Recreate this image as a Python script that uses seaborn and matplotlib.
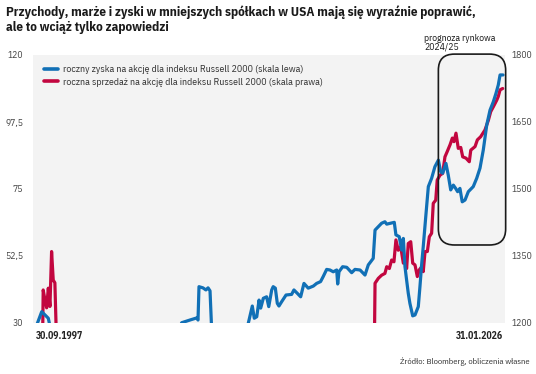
import numpy as np
import pandas as pd
import matplotlib
matplotlib.use('Agg')
import matplotlib.pyplot as plt
import seaborn as sns
from matplotlib import font_manager as fm
from matplotlib.lines import Line2D
from matplotlib.patches import FancyBboxPatch
from matplotlib.transforms import IdentityTransform
from matplotlib.ticker import FixedLocator, FixedFormatter

# ---- data ----
eps_years = [1997.75, 1998.04, 1998.24, 1998.44, 1998.54, 2002.0, 2006.32,
             2006.55, 2007.05, 2007.46, 2007.54, 2007.60, 2007.84, 2008.02, 2008.15, 2008.27, 2008.37,
             2009.5, 2010.45,
             2010.60, 2010.84, 2010.96, 2011.11, 2011.25, 2011.35, 2011.51, 2011.71, 2011.84, 2012.02,
             2012.11, 2012.24, 2012.36, 2012.46, 2012.63, 2012.89, 2013.23, 2013.37, 2013.57, 2013.78,
             2013.98, 2014.24, 2014.55, 2014.75, 2014.99, 2015.15, 2015.36, 2015.56, 2015.76, 2015.97,
             2016.03, 2016.11, 2016.33, 2016.58, 2016.88, 2017.08, 2017.39, 2017.69, 2017.89, 2018.19,
             2018.30, 2018.70, 2018.90, 2019.01, 2019.47, 2019.57, 2019.77, 2019.92, 2020.02, 2020.12,
             2020.22, 2020.32, 2020.42, 2020.59, 2020.73, 2020.93, 2021.03, 2021.14, 2021.23, 2021.40,
             2021.54, 2021.74, 2021.94, 2022.15, 2022.29, 2022.41, 2022.61, 2022.75, 2022.90, 2023.06,
             2023.20, 2023.32, 2023.46, 2023.60, 2023.77, 2023.97, 2024.27, 2024.48, 2024.68, 2024.88,
             2025.09, 2025.29, 2025.49, 2025.65, 2025.79, 2025.90, 2026.08]
eps_values = [29.5, 33.8, 32.7, 31.6, 29.0, 24.0, 27.0,
              30.1, 31.0, 31.7, 31.0, 42.2, 41.8, 41.1, 41.8, 40.8, 27.7,
              24.0, 27.5,
              30.0, 35.7, 31.6, 32.1, 37.7, 35.0, 38.3, 38.8, 35.5, 41.1,
              42.2, 41.7, 36.6, 35.7, 37.2, 39.4, 39.6, 41.1, 40.0, 38.8,
              43.3, 41.7, 42.4, 43.3, 43.9, 45.6, 48.0, 47.8, 47.2, 47.8,
              43.1, 47.2, 48.9, 48.7, 46.9, 48.0, 47.8, 46.1, 49.5, 51.7,
              61.2, 63.5, 64.0, 63.2, 63.8, 59.6, 59.0, 54.5, 58.4, 48.9,
              44.4, 40.0, 36.6, 32.4, 32.7, 35.5, 42.2, 50.1, 55.6, 66.8,
              75.8, 78.6, 82.5, 84.7, 80.8, 80.3, 83.6, 79.7, 74.7, 76.3,
              75.2, 74.1, 75.2, 70.7, 71.3, 74.1, 75.8, 78.6, 82.0, 88.1,
              96.5, 101.5, 104.3, 107.1, 109.9, 113.3, 113.3]

sales_years = [1998.10, 1998.13, 1998.24, 1998.34, 1998.44, 1998.54, 1998.64, 1998.74, 1998.84, 1998.92,
               2008.0, 2018.27,
               2018.30, 2018.50, 2018.70, 2018.90, 2019.01, 2019.17, 2019.31, 2019.45, 2019.57, 2019.71,
               2019.86, 2020.02, 2020.12, 2020.22, 2020.32, 2020.47, 2020.59, 2020.73, 2020.87, 2020.99,
               2021.14, 2021.23, 2021.34, 2021.48, 2021.60, 2021.74, 2021.84, 2021.99, 2022.08, 2022.25,
               2022.41, 2022.55, 2022.69, 2022.86, 2023.00, 2023.10, 2023.22, 2023.36, 2023.51, 2023.63,
               2023.83, 2024.03, 2024.12, 2024.38, 2024.52, 2024.72, 2024.98, 2025.19, 2025.33, 2025.49,
               2025.70, 2025.79, 2025.90, 2026.06]
sales_values = [1184, 1274, 1251, 1234, 1278, 1237, 1360, 1296, 1290, 1184,
                1150, 1184,
                1289, 1300, 1307, 1311, 1326, 1322, 1341, 1337, 1386, 1363,
                1371, 1334, 1341, 1322, 1378, 1382, 1334, 1330, 1304, 1319,
                1326, 1315, 1360, 1360, 1393, 1401, 1468, 1475, 1520, 1531,
                1535, 1572, 1584, 1599, 1614, 1606, 1625, 1591, 1593, 1572,
                1569, 1561, 1587, 1595, 1610, 1617, 1632, 1654, 1673, 1684,
                1699, 1707, 1722, 1725]

left_ticks = [30, 52.5, 75, 97.5, 120]
left_labels = ["30", "52,5", "75", "97,5", "120"]
right_ticks = [1200, 1350, 1500, 1650, 1800]
right_labels = ["1200", "1350", "1500", "1650", "1800"]

start_label = "30.09.1997"
end_label = "31.01.2026"
forecast_span = [2022.15, 2026.24]

series_names = ["roczny zyska na akcję dla indeksu Russell 2000 (skala lewa)",
                "roczna sprzedaż na akcję dla indeksu Russell 2000 (skala prawa)"]
title_lines = ["Przychody, marże i zyski w mniejszych spółkach w USA mają się wyraźnie poprawić,",
               "ale to wciąż tylko zapowiedzi"]
source = "Źródło: Bloomberg, obliczenia własne"
forecast_label = "prognoza rynkowa\n2024/25"

BLUE = "#1170b6"
RED = "#c2063f"
GRAY_BG = "#f3f3f3"
TXT = "#333333"

eps_df = pd.DataFrame({"year": eps_years, "value": eps_values})
sales_df = pd.DataFrame({"year": sales_years, "value": sales_values})

sns.set_theme(style="white")
installed = {f.name for f in fm.fontManager.ttflist}
cands = ['Fira Sans Condensed', 'Roboto Condensed', 'Asap Condensed', 'Barlow Semi Condensed',
         'Encode Sans Condensed', 'IBM Plex Sans Condensed', 'PT Sans Narrow', 'Archivo Narrow',
         'Open Sans Condensed']
cands = [c for c in cands if c in installed]

W, H = 536, 374
fig = plt.figure(figsize=(W / 100, H / 100), dpi=100)
r = fig.canvas.get_renderer()

# choose the condensed family whose bold title at cap-height ~9px is closest to 467 px wide
best, best_err = 'DejaVu Sans', 1e9
for c in cands:
    t = fig.text(0, 0, title_lines[0], fontsize=9.4, fontweight='bold', family=[c, 'DejaVu Sans'])
    w = t.get_window_extent(r).width
    t.remove()
    if abs(w - 467) < best_err:
        best, best_err = c, abs(w - 467)
FAM = [best, 'DejaVu Sans']
plt.rcParams['font.family'] = FAM

# tick label size so that "1800" is ~21 px wide
probe = fig.text(0, 0, "1800", fontsize=8.3)
tick_size = 8.3 * 21 / probe.get_window_extent(r).width
probe.remove()

ax = fig.add_axes([33 / W, 1 - 323 / H, (505 - 33) / W, (323 - 55) / H])
ax2 = ax.twinx()

# red series on the background axis, blue on top
sns.lineplot(data=sales_df, x="year", y="value", ax=ax2, color=RED, linewidth=2.3, sort=False)
sns.lineplot(data=eps_df, x="year", y="value", ax=ax, color=BLUE, linewidth=2.3, sort=False)

ax.set_zorder(ax2.get_zorder() + 1)
ax.patch.set_visible(False)
ax2.patch.set_visible(True)
ax2.patch.set_facecolor(GRAY_BG)

xmin, xmax = 1997.51, 2026.2
ax.set_xlim(xmin, xmax)
ax.set_ylim(left_ticks[0], left_ticks[-1])
ax2.set_ylim(right_ticks[0], right_ticks[-1])

for a in (ax, ax2):
    for s in a.spines.values():
        s.set_visible(False)
    a.set_xlabel("")
    a.set_ylabel("")
    a.set_xticks([])

ax.yaxis.set_major_locator(FixedLocator(left_ticks))
ax.yaxis.set_major_formatter(FixedFormatter(left_labels))
ax2.yaxis.set_major_locator(FixedLocator(right_ticks))
ax2.yaxis.set_major_formatter(FixedFormatter(right_labels))
ax.tick_params(axis='y', length=0, pad=7, labelsize=tick_size, labelcolor="#444444")
ax2.tick_params(axis='y', length=0, pad=5, labelsize=tick_size, labelcolor="#444444")

# legend
handles = [Line2D([], [], color=BLUE, linewidth=2.6), Line2D([], [], color=RED, linewidth=2.6)]
leg = ax.legend(handles, series_names, loc="upper left", bbox_to_anchor=(0.024, 0.962),
                frameon=False, fontsize=7.3, handlelength=1.35, handletextpad=0.45,
                borderaxespad=0, borderpad=0, labelspacing=0.35)
for t in leg.get_texts():
    t.set_color(TXT)

# x labels
xl0 = ax.text(0.006, -0.047, start_label, transform=ax.transAxes, ha="left", va="center",
              fontsize=8.2, fontweight="bold", color="#222222")
xl1 = ax.text(0.995, -0.047, end_label, transform=ax.transAxes, ha="right", va="center",
              fontsize=8.2, fontweight="bold", color="#222222")

fc = fig.text(424 / W, 1 - 43 / H, forecast_label, ha="left", va="center", fontsize=7.8,
              color="#1a1a1a", linespacing=0.95)

ttl = fig.text(6 / W, 1 - 5 / H, "\n".join(title_lines), ha="left", va="top", fontsize=9.4,
               fontweight="bold", color="#1a1a1a", linespacing=1.25)
src = fig.text(530 / W, 1 - 362 / H, source, ha="right", va="center", fontsize=7, color=TXT)


def fit(texts, target):
    fig.canvas.draw()
    w = texts[0].get_window_extent(r).width
    for t in texts:
        t.set_fontsize(t.get_fontsize() * target / w)


fit([ttl], 467)
fit(leg.get_texts(), 240)
fit([xl0, xl1], 47)
fit([src], 130)
fc_first = fig.text(0, 0, "prognoza rynkowa", fontsize=fc.get_fontsize())
fig.canvas.draw()
fc.set_fontsize(fc.get_fontsize() * 73 / fc_first.get_window_extent(r).width)
fc_first.remove()

# forecast rounded box (positioned from data coordinates)
fig.canvas.draw()
x0, y0 = ax.transData.transform((forecast_span[0], 56.2))
x1, y1 = ax.transData.transform((forecast_span[1], 120.3))
box = FancyBboxPatch((x0, y0), x1 - x0, y1 - y0,
                     boxstyle="round,pad=0,rounding_size=16",
                     transform=IdentityTransform(), fill=False,
                     edgecolor="#1a1a1a", linewidth=1.2, zorder=10)
fig.patches.append(box)

fig.savefig("out.png", dpi=100, facecolor="white")
